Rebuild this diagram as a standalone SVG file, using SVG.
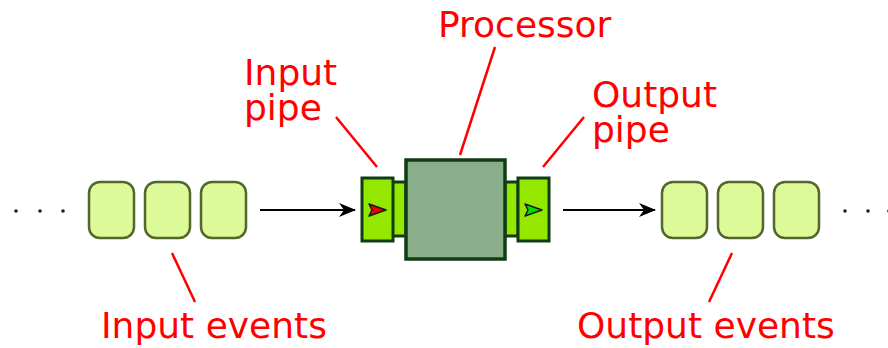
<svg xmlns="http://www.w3.org/2000/svg" width="888" height="348" viewBox="0 0 888 348">
<style>
.ev{fill:#dcfa98;stroke:#55652e;stroke-width:2.5}
.pipe{fill:#94e800;stroke:#0f3d13;stroke-width:3}
.proc{fill:#8aae8a;stroke:#0f3d13;stroke-width:3.5}
.lbl{font-family:"DejaVu Sans",sans-serif;font-size:36px;fill:#ff0000}
.lead{stroke:#ff0000;stroke-width:2.5;fill:none}
.flow{stroke:#000;stroke-width:2;fill:none;marker-end:url(#ah)}
.dot{fill:#1a1a3a}
</style>
<defs>
<marker id="ah" markerWidth="18" markerHeight="14" refX="16" refY="7" orient="auto" markerUnits="userSpaceOnUse">
<path d="M0,0 L17,7 L0,14 L5,7 Z" fill="#000"/>
</marker>
</defs>
<g id="input-events">
<circle class="dot" cx="16" cy="211" r="1.8"/>
<circle class="dot" cx="40" cy="211" r="1.8"/>
<circle class="dot" cx="63" cy="211" r="1.8"/>
<rect class="ev" x="89" y="182" width="45" height="56" rx="11"/>
<rect class="ev" x="145" y="182" width="45" height="56" rx="11"/>
<rect class="ev" x="201" y="182" width="45" height="56" rx="11"/>
</g>
<g id="output-events">
<rect class="ev" x="662" y="182" width="45" height="56" rx="11"/>
<rect class="ev" x="718" y="182" width="45" height="56" rx="11"/>
<rect class="ev" x="774" y="182" width="45" height="56" rx="11"/>
<circle class="dot" cx="845" cy="211" r="1.8"/>
<circle class="dot" cx="868" cy="211" r="1.8"/>
<circle class="dot" cx="889" cy="211" r="1.8"/>
</g>
<g id="input-pipe">
<rect class="pipe" x="392" y="182" width="14" height="54"/>
<rect class="pipe" x="362" y="178" width="31" height="63"/>
<path d="M369,204 L386,210 L369,216 L372,210 Z" fill="#ee0000" stroke="#1a1a1a" stroke-width="1.5" stroke-linejoin="round"/>
</g>
<g id="output-pipe">
<rect class="pipe" x="505" y="182" width="13" height="54"/>
<rect class="pipe" x="518" y="178" width="31" height="63"/>
<path d="M525,204 L542,210 L525,216 L528,210 Z" fill="#00e000" stroke="#1a1a1a" stroke-width="1.5" stroke-linejoin="round"/>
</g>
<g id="processor">
<rect class="proc" x="406" y="160" width="99" height="99"/>
</g>
<g id="connectors">
<line class="flow" x1="260" y1="210" x2="355" y2="210"/>
<line class="flow" x1="563" y1="210" x2="655" y2="210"/>
<line class="lead" x1="495" y1="47" x2="460" y2="155"/>
<line class="lead" x1="336" y1="117" x2="377" y2="167"/>
<line class="lead" x1="584" y1="117" x2="543" y2="167"/>
<line class="lead" x1="172" y1="253" x2="195" y2="302"/>
<line class="lead" x1="732" y1="253" x2="709" y2="302"/>
</g>
<g id="labels">
<text class="lbl" x="438" y="37">Processor</text>
<text class="lbl" x="244" y="85">Input<tspan x="244" y="120">pipe</tspan></text>
<text class="lbl" x="592" y="107">Output<tspan x="592" y="142">pipe</tspan></text>
<text class="lbl" x="101" y="338">Input events</text>
<text class="lbl" x="577" y="338">Output events</text>
</g>
</svg>
